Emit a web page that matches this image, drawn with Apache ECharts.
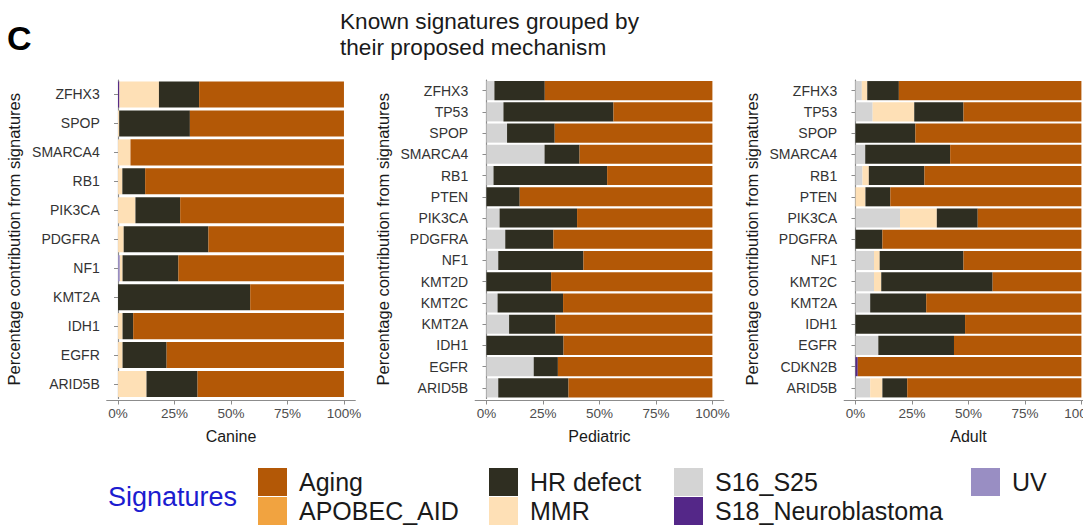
<!DOCTYPE html>
<html>
<head>
<meta charset="utf-8">
<script src="https://cdn.jsdelivr.net/npm/echarts@6/dist/echarts.min.js"></script>
<style>
html,body{margin:0;padding:0;background:#fff;}
#chart{width:1083px;height:526px;}
</style>
</head>
<body>
<div id="chart"></div>
<script>
// ---------- DATA ----------
const signatureNames = ['Aging','APOBEC_AID','HR defect','MMR','S16_S25','S18_Neuroblastoma','UV'];
const tickValues = [0, 25, 50, 75, 100];
const tickLabels = ['0%', '25%', '50%', '75%', '100%'];
const panelNames = ['Canine', 'Pediatric', 'Adult'];

const canineGenes = ['ZFHX3','SPOP','SMARCA4','RB1','PIK3CA','PDGFRA','NF1','KMT2A','IDH1','EGFR','ARID5B'];
const canineUV     = [0, 0, 0, 0, 0, 0, 0.8, 0, 0, 0, 0];
const canineS18    = [0.6, 0, 0, 0, 0, 0, 0, 0, 0, 0, 0];
const canineS16    = [0, 0, 0, 0, 0, 0, 0, 0, 0, 0, 0];
const canineMMR    = [17.5, 0.5, 5.5, 1.9, 7.7, 2.5, 1.2, 0, 2.0, 2.0, 12.6];
const canineAPOBEC = [0, 0, 0, 0, 0, 0, 0, 0, 0, 0, 0];
const canineHR     = [17.8, 31.3, 0, 10.1, 19.8, 37.5, 24.7, 58.5, 4.7, 19.5, 22.6];
const canineAging  = [64.1, 68.2, 94.5, 88.0, 72.5, 60.0, 73.3, 41.5, 93.3, 78.5, 64.8];

const pedGenes = ['ZFHX3','TP53','SPOP','SMARCA4','RB1','PTEN','PIK3CA','PDGFRA','NF1','KMT2D','KMT2C','KMT2A','IDH1','EGFR','ARID5B'];
const pedUV     = [0, 0, 0, 0, 0, 0, 0, 0, 0, 0, 0, 0, 0, 0, 0];
const pedS18    = [0, 0, 0, 0, 0, 0, 0, 0, 0, 0, 0, 0, 0, 0, 0];
const pedS16    = [3.5, 7.5, 9.1, 25.7, 3.1, 0, 5.8, 8.3, 5.2, 0, 4.9, 10.0, 0, 20.9, 5.2];
const pedMMR    = [0, 0, 0, 0, 0, 0, 0, 0, 0, 0, 0, 0, 0, 0, 0];
const pedAPOBEC = [0, 0, 0, 0, 0, 0, 0, 0, 0, 0, 0, 0, 0, 0, 0];
const pedHR     = [22.3, 48.7, 21.1, 15.5, 50.3, 14.7, 34.3, 21.3, 37.7, 28.6, 29.0, 20.5, 34.1, 10.7, 31.1];
const pedAging  = [74.2, 43.8, 69.8, 58.8, 46.6, 85.3, 59.9, 70.4, 57.1, 71.4, 66.1, 69.5, 65.9, 68.4, 63.7];

const adultGenes = ['ZFHX3','TP53','SPOP','SMARCA4','RB1','PTEN','PIK3CA','PDGFRA','NF1','KMT2C','KMT2A','IDH1','EGFR','CDKN2B','ARID5B'];
const adultUV     = [0, 0, 0, 0, 0, 0, 0, 0, 0, 0, 0, 0, 0, 0, 0];
const adultS18    = [0, 0, 0, 0, 0, 0, 0, 0, 0, 0, 0, 0, 0, 1.0, 0];
const adultS16    = [2.8, 7.6, 0, 4.3, 3.1, 0, 19.7, 0, 8.2, 8.2, 6.5, 0, 10.1, 0, 6.5];
const adultMMR    = [2.4, 18.4, 0, 0, 2.8, 4.4, 16.3, 0, 2.5, 3.2, 0, 0, 0, 0, 5.4];
const adultAPOBEC = [0, 0, 0, 0, 0, 0, 0, 0, 0, 0, 0, 0, 0, 0, 0];
const adultHR     = [14.0, 21.8, 26.5, 37.6, 24.6, 11.0, 18.1, 11.9, 37.1, 49.3, 24.8, 48.5, 33.5, 0, 11.0];
const adultAging  = [80.8, 52.2, 73.5, 58.1, 69.5, 84.6, 45.9, 88.1, 52.2, 39.3, 68.7, 51.5, 56.4, 99.0, 77.1];

// ---------- STYLE ----------
const colors = {
  'Aging': '#b35806',
  'APOBEC_AID': '#f1a340',
  'HR defect': '#2f2e21',
  'MMR': '#fee0b6',
  'S16_S25': '#d4d4d4',
  'S18_Neuroblastoma': '#542788',
  'UV': '#998ec3'
};
const FONT = '"Liberation Sans", Arial, Helvetica, sans-serif';

const panels = [
  { genes: canineGenes, data: { 'UV': canineUV, 'S18_Neuroblastoma': canineS18, 'S16_S25': canineS16, 'MMR': canineMMR, 'HR defect': canineHR, 'APOBEC_AID': canineAPOBEC, 'Aging': canineAging }, left: 106.75 },
  { genes: pedGenes,    data: { 'UV': pedUV, 'S18_Neuroblastoma': pedS18, 'S16_S25': pedS16, 'MMR': pedMMR, 'HR defect': pedHR, 'APOBEC_AID': pedAPOBEC, 'Aging': pedAging }, left: 475.2 },
  { genes: adultGenes,  data: { 'UV': adultUV, 'S18_Neuroblastoma': adultS18, 'S16_S25': adultS16, 'MMR': adultMMR, 'HR defect': adultHR, 'APOBEC_AID': adultAPOBEC, 'Aging': adultAging }, left: 844.2 }
];
// stacking order left to right
const stackOrder = ['UV','S18_Neuroblastoma','S16_S25','MMR','HR defect','APOBEC_AID','Aging'];

const grids = [], xAxes = [], yAxes = [], series = [];
panels.forEach((p, i) => {
  grids.push({ left: p.left, top: 80, width: 248.5, height: 318.5, containLabel: false, outerBoundsMode: 'none' });
  xAxes.push({
    type: 'value', gridIndex: i, min: -5, max: 105,
    name: panelNames[i], nameLocation: 'middle', nameGap: 28,
    nameTextStyle: { fontFamily: FONT, fontSize: 16, color: '#1a1a1a' },
    offset: 2,
    axisLine: { show: true, lineStyle: { color: '#8c8c8c', width: 1.2 } },
    axisTick: { show: true, length: 4, lineStyle: { color: '#8c8c8c' }, customValues: tickValues },
    axisLabel: {
      margin: 6, fontFamily: FONT, fontSize: 13.5, color: '#4d4d4d',
      customValues: tickValues, hideOverlap: false,
      formatter: v => tickLabels[tickValues.indexOf(v)]
    },
    splitLine: { show: false }
  });
  yAxes.push({
    type: 'category', gridIndex: i, data: p.genes, inverse: true,
    name: 'Percentage contribution from signatures', nameLocation: 'middle', nameGap: 84,
    nameTextStyle: { fontFamily: FONT, fontSize: 16.5, color: '#1a1a1a' },
    axisLine: { show: true, lineStyle: { color: '#8c8c8c', width: 1.2 } },
    axisTick: { show: true, length: 4, alignWithLabel: true, lineStyle: { color: '#8c8c8c' } },
    axisLabel: { margin: 7, fontFamily: FONT, fontSize: 14, color: '#333333' },
    splitLine: { show: false }
  });
  stackOrder.forEach(sig => {
    series.push({
      name: sig, type: 'bar', stack: 'panel' + i,
      xAxisIndex: i, yAxisIndex: i,
      data: p.data[sig],
      barCategoryGap: '10%',
      itemStyle: { color: colors[sig] },
      emphasis: { disabled: true },
      silent: true
    });
  });
});

const legendCols = [['Aging','APOBEC_AID'], ['HR defect','MMR'], ['S16_S25','S18_Neuroblastoma'], ['UV']];
const legendLefts = [258, 489, 674, 971];
const legends = legendCols.map((col, k) => ({
  data: col, orient: 'vertical', left: legendLefts[k], top: 468, height: 70,
  padding: 0,
  itemWidth: 29, itemHeight: 28, itemGap: 1, icon: 'rect',
  selectedMode: false,
  textStyle: { fontFamily: FONT, fontSize: 25, color: '#1a1a1a', padding: [0, 0, 0, 7] }
}));

const option = {
  animation: false,
  backgroundColor: '#ffffff',
  color: signatureNames.map(n => colors[n]),
  grid: grids, xAxis: xAxes, yAxis: yAxes, series: series,
  legend: legends,
  graphic: [
    { type: 'text', left: 7, top: 21, style: { text: 'C', font: 'bold 34px ' + FONT, fill: '#000' } },
    { type: 'text', left: 340, top: 8, style: { text: 'Known signatures grouped by\ntheir proposed mechanism', font: '22.6px ' + FONT, fill: '#1a1a1a', lineHeight: 26 } },
    { type: 'text', left: 108, top: 483, style: { text: 'Signatures', font: '27px ' + FONT, fill: '#1c1cd0' } }
  ]
};

const chart = echarts.init(document.getElementById('chart'), null, { renderer: 'svg' });
chart.setOption(option);
</script>
</body>
</html>
